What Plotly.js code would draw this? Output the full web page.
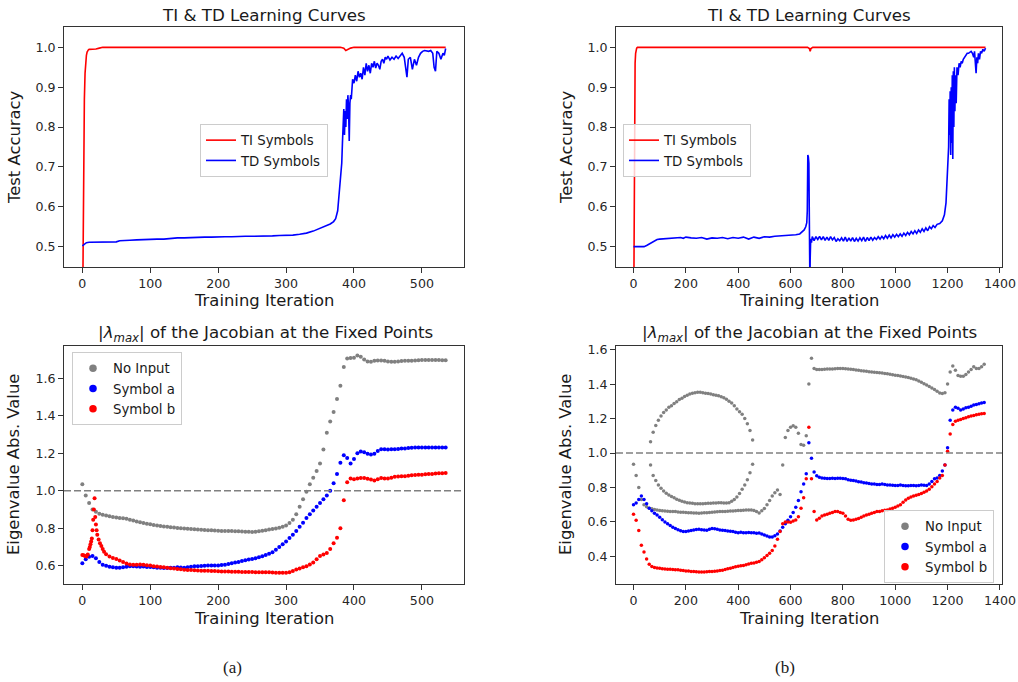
<!DOCTYPE html>
<html><head><meta charset="utf-8">
<script src="https://cdn.plot.ly/plotly-3.0.1.min.js"></script>
<style>html,body{margin:0;padding:0;background:#fff;}#chart{width:1018px;height:682px;}</style>
</head><body><div id="chart"></div>
<script>
// ---------- (a) learning curves ----------
const tlTiX = [0,1,2,3,4,5,6,7,8,9,10,15,20,25,30,380,385,388,391,395,400,535];
const tlTiY = [0.25,0.50,0.72,0.87,0.935,0.965,0.980,0.988,0.992,0.994,0.995,0.995,0.996,0.998,1.0,1.0,0.998,0.992,0.995,0.998,1.0,1.0];
const tlTdX = [0,3,6,10,20,30,40,50,55,60, 70,80,90,100,110,120,130,140,150,160, 170,180,190,200,210,220,230,240,250,260,
  270,280,290,300,310,320,330,340,350,355, 360,365,370,373,376,378,380,381,382,383, 384,385,386,387,388,389,390,391,392,393,
  394,395,396,397,398,400,402,404,406,408, 410,412,414,416,418,420,422,424,426,428, 430,432,434,436,438,440,442,444,446,448,
  450,453,456,459,462,465,468,471,474,476, 478,480,483,486,489,492,495,498,501,504, 507,510,513,516,518,520,522,525,528,531, 533,535];
const tlTdY = [0.502,0.505,0.510,0.511,0.511,0.511,0.511,0.512,0.515,0.515, 0.516,0.517,0.518,0.518,0.519,0.519,0.521,0.522,0.522,0.523,
  0.523,0.524,0.524,0.525,0.525,0.525,0.526,0.526,0.526,0.526, 0.527,0.527,0.528,0.528,0.529,0.531,0.534,0.539,0.546,0.549,
  0.553,0.557,0.563,0.570,0.590,0.630,0.670,0.690,0.710,0.760, 0.800,0.845,0.780,0.840,0.800,0.870,0.820,0.880,0.850,0.765,
  0.860,0.880,0.870,0.900,0.920,0.910,0.930,0.915,0.940,0.925, 0.935,0.920,0.950,0.930,0.960,0.940,0.955,0.935,0.960,0.950,
  0.965,0.948,0.960,0.955,0.945,0.965,0.970,0.960,0.975,0.970, 0.978,0.968,0.975,0.970,0.978,0.972,0.980,0.985,0.975,0.950,
  0.925,0.970,0.975,0.945,0.970,0.955,0.975,0.985,0.990,0.992, 0.990,0.990,0.992,0.985,0.950,0.940,0.990,0.985,0.970,0.985, 0.980,0.997];

// ---------- (b) learning curves ----------
const trTiX = [0,2,4,6,8,10,12,15,20,665,672,675,678,685,1345];
const trTiY = [0.25,0.50,0.85,0.96,0.985,0.995,0.998,1.0,1.0,1.0,0.997,0.990,0.997,1.0,1.0];
const trTdX = [0,20,40,50,60,70,80,90,100,120, 140,160,180,190,200,220,240,260,280,300, 320,340,360,380,400,420,440,460,480,500,
  520,540,560,580,600,620,635,645,652,658, 662,664,665,666,668,670,671,672,673,674, 675,677,680,683,690,697,704,711,718,725,
  732,739,746,753,760,767,774,781,788,795, 802,809,816,823,830,837,844,851,858,865, 872,879,886,893,900,907,914,921,928,935,
  942,949,956,963,970,977,984,991,998,1005, 1012,1019,1026,1033,1040,1047,1054,1061,1068,1075, 1082,1089,1096,1103,1110,1117,1124,1131,1138,1145,
  1152,1160,1170,1180,1188,1194,1198,1201,1204,1206, 1208,1210,1212,1214,1216,1218,1220,1222,1224,1226,
  1228,1230,1233,1236,1240,1244,1248,1252,1256,1260, 1265,1270,1275,1280,1285,1290,1295,1300,1303,1306,
  1309,1312,1315,1318,1322,1326,1330,1335,1340,1345];
const trTdY = [0.500,0.500,0.500,0.503,0.507,0.510,0.515,0.518,0.519,0.520, 0.521,0.521,0.523,0.521,0.524,0.522,0.521,0.523,0.519,0.522,
  0.521,0.523,0.520,0.523,0.521,0.524,0.519,0.524,0.521,0.525, 0.524,0.526,0.527,0.528,0.528,0.530,0.532,0.537,0.542,0.550,
  0.560,0.590,0.650,0.730,0.725,0.710,0.620,0.500,0.450,0.400, 0.470,0.520,0.510,0.525,0.515,0.525,0.518,0.526,0.517,0.525,
  0.516,0.524,0.516,0.525,0.517,0.523,0.513,0.520,0.515,0.522, 0.514,0.524,0.513,0.522,0.514,0.523,0.513,0.521,0.514,0.522,
  0.515,0.524,0.513,0.523,0.515,0.524,0.516,0.523,0.518,0.525, 0.519,0.526,0.520,0.528,0.521,0.529,0.522,0.530,0.524,0.531,
  0.525,0.532,0.526,0.534,0.528,0.536,0.530,0.538,0.532,0.540, 0.533,0.542,0.536,0.545,0.538,0.547,0.540,0.550,0.545,0.553,
  0.548,0.556,0.558,0.565,0.580,0.610,0.660,0.690,0.750,0.870, 0.780,0.890,0.730,0.900,0.760,0.930,0.720,0.940,0.800,0.950,
  0.840,0.930,0.860,0.950,0.930,0.960,0.950,0.965,0.960,0.970, 0.975,0.980,0.985,0.985,0.988,0.990,0.985,0.975,0.990,0.950,
  0.935,0.975,0.960,0.985,0.970,0.990,0.985,0.995,0.990,0.998];

// ---------- (a) eigenvalues: sampled every 5 iterations from 0 ----------
const blStep = 5;
const blNoInput = [1.035,0.975,0.935,0.900,0.888,0.878,0.872,0.868,0.864,0.860,
  0.857,0.855,0.854,0.851,0.846,0.841,0.836,0.832,0.828,0.824,
  0.821,0.818,0.815,0.812,0.810,0.808,0.806,0.804,0.802,0.800,
  0.799,0.797,0.796,0.795,0.793,0.792,0.791,0.790,0.789,0.788,
  0.787,0.786,0.786,0.785,0.785,0.784,0.784,0.783,0.782,0.781,
  0.780,0.781,0.784,0.787,0.790,0.793,0.796,0.799,0.803,0.808,
  0.815,0.828,0.845,0.875,0.915,0.955,0.995,1.035,1.070,1.105,
  1.145,1.220,1.310,1.370,1.420,1.490,1.560,1.660,1.705,1.708,
  1.710,1.722,1.715,1.700,1.690,1.688,1.693,1.695,1.695,1.693,
  1.690,1.688,1.688,1.690,1.692,1.693,1.693,1.694,1.695,1.696,
  1.697,1.697,1.698,1.698,1.697,1.697,1.696,1.696];
const blSymA = [0.614,0.635,0.648,0.652,0.640,0.620,0.605,0.600,0.595,0.592,
  0.590,0.590,0.592,0.595,0.597,0.597,0.596,0.595,0.596,0.594,
  0.593,0.592,0.590,0.589,0.588,0.588,0.589,0.590,0.592,0.591,
  0.590,0.592,0.595,0.597,0.598,0.599,0.600,0.601,0.601,0.602,
  0.602,0.604,0.606,0.610,0.613,0.617,0.620,0.625,0.629,0.633,
  0.636,0.640,0.645,0.651,0.657,0.664,0.672,0.685,0.700,0.715,
  0.730,0.748,0.765,0.785,0.808,0.830,0.855,0.875,0.895,0.915,
  0.935,0.955,0.975,1.000,1.040,1.090,1.150,1.190,1.175,1.145,
  1.170,1.200,1.210,1.205,1.198,1.193,1.197,1.212,1.222,1.222,
  1.220,1.221,1.222,1.223,1.225,1.226,1.228,1.230,1.231,1.231,
  1.231,1.231,1.231,1.231,1.231,1.231,1.231,1.231];
// Symbol b: early spike at explicit iterations, then every 5 iterations from 35
const blSymBEarlyX = [0,2,4,6,8,10,11,12,13,14,15,16,17,18,19,20,21,22,24,26,28,30,32];
const blSymBEarlyY = [0.658,0.656,0.652,0.650,0.660,0.690,0.700,0.715,0.730,0.745,0.790,0.845,0.900,0.960,0.860,0.820,0.790,0.765,0.740,0.720,0.705,0.690,0.675];
const blSymBStart = 35;
const blSymB = [0.662,0.650,0.642,0.636,0.628,0.620,0.612,0.607,0.606,0.606,
  0.607,0.605,0.603,0.601,0.598,0.596,0.594,0.592,0.590,0.587,
  0.585,0.583,0.581,0.579,0.578,0.577,0.576,0.575,0.574,0.574,
  0.573,0.572,0.572,0.571,0.570,0.570,0.569,0.568,0.568,0.568,
  0.567,0.567,0.567,0.567,0.566,0.566,0.566,0.566,0.565,0.564,
  0.563,0.563,0.563,0.563,0.566,0.572,0.580,0.586,0.592,0.598,
  0.607,0.617,0.635,0.652,0.660,0.668,0.690,0.720,0.750,0.800,
  0.950,1.045,1.065,1.062,1.065,1.068,1.068,1.064,1.060,1.055,
  1.062,1.068,1.066,1.065,1.070,1.075,1.076,1.077,1.078,1.080,
  1.083,1.084,1.085,1.086,1.088,1.089,1.090,1.092,1.093,1.094,
  1.095];

// ---------- (b) eigenvalues: sampled every 10 iterations ----------
const brStep = 10;
const brNoInputMain = [0.935,0.870,0.800,0.730,0.700,0.688,0.680,0.676,0.673,0.670,
  0.667,0.665,0.663,0.662,0.661,0.660,0.660,0.658,0.657,0.656,
  0.655,0.654,0.653,0.652,0.652,0.651,0.652,0.653,0.654,0.655,
  0.657,0.658,0.659,0.660,0.660,0.661,0.662,0.663,0.664,0.665,
  0.666,0.667,0.668,0.669,0.670,0.670,0.667,0.660,0.652,0.665,
  0.678,0.700,0.725,0.750,0.770,0.785,0.760,0.930,1.090,1.130,
  1.150,1.158,1.150,1.115,1.050,1.045,1.100,1.400,1.550,1.490,
  1.485,1.484,1.485,1.486,1.487,1.488,1.488,1.489,1.490,1.490,
  1.490,1.489,1.488,1.486,1.484,1.482,1.480,1.478,1.476,1.474,
  1.472,1.470,1.469,1.467,1.466,1.464,1.462,1.460,1.457,1.454,
  1.452,1.450,1.447,1.444,1.441,1.438,1.434,1.430,1.425,1.418,
  1.410,1.402,1.394,1.386,1.378,1.368,1.358,1.348,1.345,1.350,
  1.400,1.470,1.505,1.480,1.450,1.445,1.445,1.455,1.470,1.485,
  1.500,1.490,1.490,1.500,1.515];
const brArcStart = 65;
const brNoInputUpper = [1.065,1.120,1.160,1.190,1.215,1.235,1.250,1.265,1.275,1.288,
  1.298,1.310,1.318,1.328,1.335,1.342,1.347,1.350,1.352,1.352,
  1.350,1.347,1.345,1.342,1.338,1.335,1.332,1.327,1.320,1.312,
  1.300,1.290,1.275,1.255,1.240,1.225,1.200,1.170,1.130,1.075];
const brNoInputLower = [0.930,0.870,0.840,0.815,0.795,0.780,0.767,0.757,0.748,0.740,
  0.732,0.726,0.720,0.716,0.712,0.710,0.708,0.706,0.705,0.705,
  0.706,0.707,0.708,0.709,0.710,0.710,0.711,0.711,0.710,0.710,
  0.712,0.720,0.730,0.745,0.765,0.790,0.815,0.845,0.885,0.935];
const brSymA = [0.700,0.710,0.730,0.750,0.730,0.705,0.680,0.665,0.650,0.640,
  0.628,0.613,0.600,0.590,0.580,0.570,0.562,0.555,0.549,0.545,
  0.545,0.547,0.550,0.553,0.556,0.557,0.555,0.553,0.552,0.558,
  0.562,0.560,0.557,0.553,0.552,0.551,0.548,0.546,0.545,0.541,
  0.538,0.540,0.538,0.537,0.539,0.537,0.538,0.535,0.536,0.530,
  0.525,0.518,0.513,0.512,0.520,0.530,0.548,0.570,0.590,0.610,
  0.630,0.655,0.685,0.725,0.775,0.820,0.880,1.060,0.970,0.890,
  0.868,0.860,0.855,0.853,0.852,0.852,0.853,0.852,0.853,0.853,
  0.852,0.850,0.845,0.842,0.840,0.837,0.834,0.832,0.828,0.826,
  0.823,0.820,0.820,0.818,0.818,0.820,0.817,0.815,0.815,0.813,
  0.812,0.812,0.814,0.812,0.810,0.810,0.812,0.812,0.810,0.812,
  0.815,0.813,0.812,0.820,0.835,0.850,0.855,0.870,0.895,0.930,
  1.030,1.190,1.250,1.265,1.260,1.250,1.255,1.262,1.266,1.272,
  1.278,1.282,1.286,1.290,1.293];
const brSymB = [0.645,0.610,0.550,0.465,0.425,0.385,0.355,0.342,0.336,0.333,
  0.331,0.329,0.327,0.326,0.325,0.324,0.323,0.322,0.320,0.318,
  0.316,0.315,0.313,0.312,0.311,0.310,0.310,0.310,0.311,0.312,
  0.313,0.314,0.316,0.318,0.320,0.324,0.328,0.332,0.336,0.340,
  0.343,0.346,0.348,0.352,0.356,0.360,0.362,0.366,0.370,0.380,
  0.392,0.405,0.418,0.435,0.460,0.500,0.545,0.590,0.600,0.600,
  0.598,0.605,0.612,0.630,0.680,0.740,0.850,1.150,0.850,0.660,
  0.612,0.622,0.635,0.640,0.645,0.650,0.655,0.660,0.660,0.655,
  0.650,0.635,0.615,0.610,0.612,0.615,0.620,0.628,0.635,0.640,
  0.645,0.650,0.655,0.660,0.660,0.665,0.668,0.670,0.675,0.680,
  0.685,0.692,0.700,0.715,0.728,0.738,0.745,0.750,0.755,0.760,
  0.765,0.772,0.780,0.790,0.805,0.820,0.835,0.855,0.870,0.930,
  1.010,1.110,1.165,1.185,1.190,1.195,1.200,1.205,1.210,1.215,
  1.218,1.222,1.225,1.228,1.230];
const unitThreshold = 1.0;

// ---------- build ----------
function iters(start, step, n){ const a=[]; for(let i=0;i<n;i++) a.push(start+i*step); return a; }
const RED='#ff0000', BLUE='#0000ff', GRAY='#808080';
const FONT='DejaVu Sans';
const traces = [];
function line(x,y,color,name,xa,ya,lg){ traces.push({type:'scatter',mode:'lines',x:x,y:y,name:name,xaxis:xa,yaxis:ya,legend:lg,line:{color:color,width:1.6},hoverinfo:'skip'}); }
function dots(x,y,color,xa,ya,sz,grp){ traces.push({type:'scatter',mode:'markers',x:x,y:y,xaxis:xa,yaxis:ya,showlegend:false,legendgroup:grp,marker:{color:color,size:sz,line:{width:0}},hoverinfo:'skip'}); }
function key(color,name,xa,ya,lg,grp){ traces.push({type:'scatter',mode:'markers',x:[null],y:[null],name:name,xaxis:xa,yaxis:ya,legend:lg,legendgroup:grp,marker:{color:color,size:7.5}}); }

line(tlTiX,tlTiY,RED,'TI Symbols','x','y','legend');
line(tlTdX,tlTdY,BLUE,'TD Symbols','x','y','legend');
line(trTiX,trTiY,RED,'TI Symbols','x2','y2','legend2');
line(trTdX,trTdY,BLUE,'TD Symbols','x2','y2','legend2');

dots(iters(0,blStep,blNoInput.length),blNoInput,GRAY,'x3','y3',4,'a0');
dots(iters(0,blStep,blSymA.length),blSymA,BLUE,'x3','y3',4,'a1');
dots(blSymBEarlyX.concat(iters(blSymBStart,blStep,blSymB.length)),blSymBEarlyY.concat(blSymB),RED,'x3','y3',4,'a2');
key(GRAY,'No Input','x3','y3','legend3','a0');
key(BLUE,'Symbol a','x3','y3','legend3','a1');
key(RED,'Symbol b','x3','y3','legend3','a2');

dots(iters(0,brStep,brNoInputMain.length),brNoInputMain,GRAY,'x4','y4',3.5,'b0');
dots(iters(brArcStart,brStep,brNoInputUpper.length),brNoInputUpper,GRAY,'x4','y4',3.5,'b0');
dots(iters(brArcStart,brStep,brNoInputLower.length),brNoInputLower,GRAY,'x4','y4',3.5,'b0');
dots(iters(0,brStep,brSymA.length),brSymA,BLUE,'x4','y4',3.5,'b1');
dots(iters(0,brStep,brSymB.length),brSymB,RED,'x4','y4',3.5,'b2');
key(GRAY,'No Input','x4','y4','legend4','b0');
key(BLUE,'Symbol a','x4','y4','legend4','b1');
key(RED,'Symbol b','x4','y4','legend4','b2');

const W=1018, H=682;
const px = v => v/W, py = v => 1 - v/H;
function axis(d0,d1,range,tv,anchor,fmt){
  return {domain:[px(d0),px(d1)],range:range,tickvals:tv,tickformat:fmt||'',anchor:anchor,
    ticks:'outside',ticklen:5,tickwidth:1,tickcolor:'#333',showline:true,mirror:true,linecolor:'#333',linewidth:1,
    showgrid:false,zeroline:false,fixedrange:true,tickfont:{family:FONT,size:12.6,color:'#262626'}};
}
function yaxis(t0,t1,range,tv,anchor){ const a=axis(0,0,range,tv,anchor,'.1f'); a.domain=[py(t1),py(t0)]; return a; }
const xTicksA=[0,100,200,300,400,500], xTicksB=[0,200,400,600,800,1000,1200,1400];
const layout = {
  width:W,height:H,margin:{l:0,r:0,t:0,b:0},paper_bgcolor:'#fff',plot_bgcolor:'#fff',
  font:{family:FONT,color:'#1a1a1a'},hovermode:false,
  xaxis: axis(64,464,[-27,562],xTicksA,'y'),
  yaxis: yaxis(27,267,[0.449,1.051],[0.5,0.6,0.7,0.8,0.9,1.0],'x'),
  xaxis2: axis(616,1002,[-67,1408],xTicksB,'y2'),
  yaxis2: yaxis(27,267,[0.449,1.051],[0.5,0.6,0.7,0.8,0.9,1.0],'x2'),
  xaxis3: axis(64,464,[-27,562],xTicksA,'y3'),
  yaxis3: yaxis(346,584,[0.503,1.772],[0.6,0.8,1.0,1.2,1.4,1.6],'x3'),
  xaxis4: axis(616,1002,[-67,1408],xTicksB,'y4'),
  yaxis4: yaxis(346,584,[0.24,1.621],[0.4,0.6,0.8,1.0,1.2,1.4,1.6],'x4'),
  shapes:[
    {type:'line',xref:'x3 domain',yref:'y3',x0:0,x1:1,y0:unitThreshold,y1:unitThreshold,line:{color:GRAY,width:1.5,dash:'7px,3px'}},
    {type:'line',xref:'x4 domain',yref:'y4',x0:0,x1:1,y0:unitThreshold,y1:unitThreshold,line:{color:GRAY,width:1.5,dash:'7px,3px'}}
  ],
  annotations:[],
};
const legBase = {bgcolor:'rgba(255,255,255,0.8)',bordercolor:'#cccccc',borderwidth:1,font:{family:FONT,size:13.3,color:'#1a1a1a'},xanchor:'left',yanchor:'top',tracegroupgap:0};
layout.legend  = Object.assign({},legBase,{x:px(200),y:py(124)});
layout.legend2 = Object.assign({},legBase,{x:px(623),y:py(124)});
layout.legend3 = Object.assign({},legBase,{x:px(72),y:py(352)});
layout.legend4 = Object.assign({},legBase,{x:px(884),y:py(510)});

function txt(t,x,y,size,angle,family){ layout.annotations.push({text:t,xref:'paper',yref:'paper',x:px(x),y:py(y),xanchor:'center',yanchor:'middle',showarrow:false,textangle:angle||0,font:{family:family||FONT,size:size,color:'#1a1a1a'}}); }
const lam = '|<i>λ</i><sub><i>max</i></sub>| of the Jacobian at the Fixed Points';
txt('TI &amp; TD Learning Curves',264,15,16.7);
txt('TI &amp; TD Learning Curves',809,15,16.7);
txt(lam,265,333,16.7);
txt(lam,809,333,16.7);
txt('Training Iteration',264,300,16.4);
txt('Training Iteration',809,300,16.4);
txt('Training Iteration',264,618,16.4);
txt('Training Iteration',809,618,16.4);
txt('Test Accuracy',14,147,16.4,-90);
txt('Test Accuracy',566,147,16.4,-90);
txt('Eigenvalue Abs. Value',14,465,16.4,-90);
txt('Eigenvalue Abs. Value',566,465,16.4,-90);
txt('(a)',232,667,17,0,'Liberation Serif');
txt('(b)',785,667,17,0,'Liberation Serif');

Plotly.newPlot('chart',traces,layout,{displayModeBar:false,staticPlot:true});
</script></body></html>
